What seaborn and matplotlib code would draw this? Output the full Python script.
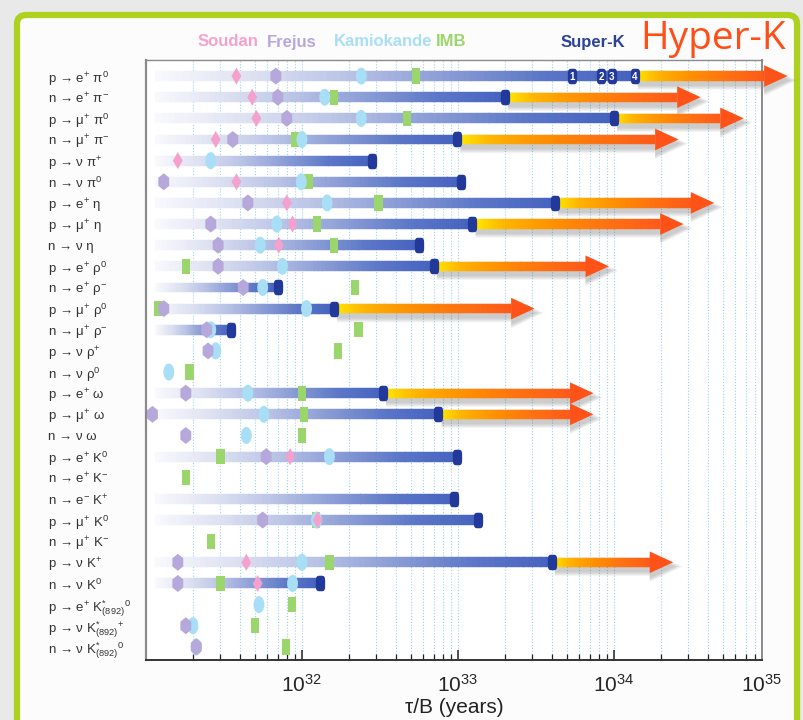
import numpy as np
import pandas as pd
import matplotlib
matplotlib.use("Agg")
import matplotlib.pyplot as plt
import seaborn as sns
from matplotlib.path import Path
from matplotlib.colors import LinearSegmentedColormap
from matplotlib.patches import FancyBboxPatch, Polygon
from matplotlib.ticker import FixedLocator, LogLocator, NullFormatter, LogFormatterSciNotation

nan = np.nan

# ---- decay channels (top to bottom) ----
channels = [
    'p → e$^{+}$ π$^{0}$', 'n → e$^{+}$ π$^{-}$', 'p → μ$^{+}$ π$^{0}$', 'n → μ$^{+}$ π$^{-}$',
    'p → ν π$^{+}$', 'n → ν π$^{0}$', 'p → e$^{+}$ η', 'p → μ$^{+}$ η', 'n → ν η',
    'p → e$^{+}$ ρ$^{0}$', 'n → e$^{+}$ ρ$^{-}$', 'p → μ$^{+}$ ρ$^{0}$', 'n → μ$^{+}$ ρ$^{-}$',
    'p → ν ρ$^{+}$', 'n → ν ρ$^{0}$', 'p → e$^{+}$ ω', 'p → μ$^{+}$ ω', 'n → ν ω',
    'p → e$^{+}$ K$^{0}$', 'n → e$^{+}$ K$^{-}$', 'n → e$^{-}$ K$^{+}$', 'p → μ$^{+}$ K$^{0}$',
    'n → μ$^{+}$ K$^{-}$', 'p → ν K$^{+}$', 'n → ν K$^{0}$',
    'p → e$^{+}$ K$^{*}_{(892)}$$^{0}$', 'p → ν K$^{*}_{(892)}$$^{+}$', 'n → ν K$^{*}_{(892)}$$^{0}$',
]

# ---- lifetime limits tau/B in years ----
soudan = [3.8e31, 4.8e31, 5.1e31, 2.8e31, 1.6e31, 3.8e31, 8.0e31, 8.7e31, 7.1e31,
          nan, nan, nan, nan, nan, nan, nan, nan, nan,
          8.4e31, nan, nan, 1.26e32, nan, 4.4e31, 5.2e31, nan, nan, nan]
frejus = [6.8e31, 7.0e31, 8.0e31, 3.6e31, nan, 1.3e31, 4.5e31, 2.6e31, 2.9e31,
          2.9e31, 4.2e31, 1.3e31, 2.45e31, 2.5e31, nan, 1.8e31, 1.1e31, 1.8e31,
          5.9e31, nan, nan, 5.6e31, nan, 1.6e31, 1.6e31, nan, 1.8e31, 2.1e31]
kamiokande = [2.4e32, 1.4e32, 2.4e32, 1.0e32, 2.6e31, 9.9e31, 1.45e32, 6.9e31, 5.4e31,
              7.5e31, 5.6e31, 1.07e32, 2.6e31, 2.8e31, 1.4e31, 4.5e31, 5.7e31, 4.4e31,
              1.5e32, nan, nan, 1.24e32, nan, 1.0e32, 8.7e31, 5.3e31, 2.0e31, 2.1e31]
imb = [5.4e32, 1.6e32, 4.7e32, 9.0e31, nan, 1.1e32, 3.1e32, 1.25e32, 1.6e32,
       1.8e31, 2.2e32, 1.2e31, 2.3e32, 1.7e32, 1.9e31, 1.0e32, 1.03e32, 1.0e32,
       3.0e31, 1.8e31, nan, 1.23e32, 2.6e31, 1.5e32, 3.0e31, 8.6e31, 5.0e31, 7.9e31]
superk = [1.36e34, 2.0e33, 1.0e34, 9.9e32, 2.8e32, 1.04e33, 4.2e33, 1.24e33, 5.6e32,
          7.0e32, 7.0e31, 1.6e32, 3.5e31, nan, nan, 3.3e32, 7.5e32, nan,
          9.9e32, nan, 9.5e32, 1.35e33, nan, 4.0e33, 1.3e32, nan, nan, nan]
hyperk = [1.3e35, 3.6e34, 6.8e34, 2.6e34, nan, nan, 4.4e34, 2.8e34, nan,
          9.3e33, nan, 3.1e33, nan, nan, nan, 7.4e33, 7.4e33, nan,
          nan, nan, nan, nan, nan, 2.4e34, nan, nan, nan, nan]
# Super-K running phases for p -> e+ pi0
sk_phase_values = [5.4e33, 8.3e33, 9.7e33, 1.36e34]
sk_phase_labels = ['1', '2', '3', '4']

experiments = ['IMB', 'Kamiokande', 'Frejus', 'Soudan']
colors = {'Soudan': '#f4a2cd', 'Frejus': '#b7a8dc', 'Kamiokande': '#a9dff6',
          'IMB': '#9bd66c', 'Super-K': '#22399a', 'Hyper-K': '#ff4f17'}

# ---- marker shapes ----
t = np.linspace(0, 2 * np.pi, 64)
ellipse = Path(np.column_stack([0.64 * np.cos(t), np.sin(t)]), closed=True)
diamond = Path([(0, 1), (0.58, 0), (0, -1), (-0.58, 0), (0, 1)], closed=True)
hexagon = Path([(0, 1), (0.64, 0.48), (0.64, -0.48), (0, -1), (-0.64, -0.48), (-0.64, 0.48), (0, 1)],
               closed=True)
rect = Path([(-0.54, -1), (0.54, -1), (0.54, 1), (-0.54, 1), (-0.54, -1)], closed=True)
ce, se = np.cos(t), np.sin(t)
cap = Path(np.column_stack([0.6 * np.sign(ce) * np.abs(ce) ** 0.5,
                            np.sign(se) * np.abs(se) ** 0.5]), closed=True)

markers = {'Soudan': diamond, 'Frejus': hexagon, 'Kamiokande': ellipse, 'IMB': rect}
sizes = {'Soudan': 150, 'Frejus': 150, 'Kamiokande': 150, 'IMB': 122}

sns.set_theme(style="white")
plt.rcParams['font.family'] = ['Liberation Sans', 'DejaVu Sans']
plt.rcParams['mathtext.fontset'] = 'custom'
plt.rcParams['mathtext.rm'] = 'Liberation Sans'
plt.rcParams['mathtext.it'] = 'Liberation Sans:italic'
plt.rcParams['mathtext.bf'] = 'Liberation Sans:bold'

W, H = 804, 720
fig = plt.figure(figsize=(W / 100, H / 100), dpi=100, facecolor='#e9e9e9')

# slide panel with green frame (behind the axes)
panel = FancyBboxPatch((17 / W, -0.05), (797 - 17) / W, 1.05 - 15 / H,
                       boxstyle='round,pad=0,rounding_size=0.012', transform=fig.transFigure,
                       facecolor='#fcfcfc', edgecolor='#aed11f', linewidth=4.5, zorder=-5)
fig.patches.append(panel)

ax = fig.add_axes([146 / W, 1 - 660 / H, (762 - 146) / W, 600 / H])
ax.set_zorder(1)
ax.set_facecolor('white')
ax.set_xscale('log')
x_max = 10 ** 34.95
ax.set_xlim(1e31, x_max)
n_rows = len(channels)
rows = np.arange(n_rows)
ax.set_ylim(n_rows - 1 + 0.62, -0.76)

# ---- Super-K bars with gradient ----
bar_cmap = LinearSegmentedColormap.from_list(
    'sk', ['#f8f9fd', '#dde1f1', '#b9c3e6', '#8c9dd6', '#5d78c8', '#4562bf'])
bar_start = 1.15e31
nseg = 70
for yi, end in zip(rows, superk):
    if np.isnan(end):
        continue
    edges = np.logspace(np.log10(bar_start), np.log10(end), nseg + 1)
    frac = (np.arange(nseg) + 0.5) / nseg
    cols = bar_cmap(frac)
    ax.barh(np.full(nseg, yi), np.diff(edges) * 1.02, left=edges[:-1], height=0.47,
            color=cols, edgecolor=cols, linewidth=0.3, zorder=2)

# ---- Hyper-K sensitivity arrows ----
arrow_cmap = LinearSegmentedColormap.from_list(
    'hk', ['#fff200', '#ffb400', '#ff9200', '#ff7410', '#ff5a1a'])
head_len = 0.15   # decades
shaft_h = 0.22    # half height (rows)
head_h = 0.51
for yi, start, tip in zip(rows, superk, hyperk):
    if np.isnan(tip):
        continue
    l0, l1 = np.log10(start), np.log10(tip)
    lb = l1 - head_len
    # soft drop shadow
    for k in range(1, 6):
        p = 0.045 * k
        dx = 0.012 * k
        dy = 0.2
        pts = [(10 ** (l0 + 0.02), yi - shaft_h - p + dy), (10 ** lb, yi - shaft_h - p + dy),
               (10 ** lb, yi - head_h - p + dy), (10 ** (l1 + dx), yi + dy),
               (10 ** lb, yi + head_h + p + dy), (10 ** lb, yi + shaft_h + p + dy),
               (10 ** (l0 + 0.02), yi + shaft_h + p + dy)]
        ax.add_patch(Polygon(pts, closed=True, facecolor='#3a3a3a', edgecolor='none',
                             alpha=0.055, zorder=2.5, clip_on=False))
    edges = np.logspace(l0, lb, nseg + 1)
    frac = (np.arange(nseg) + 0.5) / nseg
    cols = arrow_cmap(frac ** 0.8)
    ax.barh(np.full(nseg, yi), np.diff(edges) * 1.02, left=edges[:-1], height=2 * shaft_h,
            color=cols, edgecolor=cols, linewidth=0.3, zorder=3, clip_on=False)
    ax.fill([10 ** lb, 10 ** l1, 10 ** lb], [yi - head_h, yi, yi + head_h],
            color='#ff5219', linewidth=0, zorder=3, clip_on=False)

# ---- earlier experiments ----
records = []
for name, vals in zip(experiments, [imb, kamiokande, frejus, soudan]):
    for yi, v in zip(rows, vals):
        if not np.isnan(v):
            records.append((name, v, yi))
df = pd.DataFrame(records, columns=['experiment', 'lifetime', 'row'])
sns.scatterplot(data=df, x='lifetime', y='row', hue='experiment', style='experiment',
                size='experiment', palette=colors, markers=markers, sizes=sizes,
                linewidth=0, legend=False, ax=ax, zorder=4)

# ---- Super-K limits (end caps) ----
sk_rows = [yi for yi, v in zip(rows, superk) if not np.isnan(v) and yi != 0]
sk_vals = [v for yi, v in zip(rows, superk) if not np.isnan(v) and yi != 0]
ax.scatter(sk_vals, sk_rows, marker=cap, s=125, color=colors['Super-K'], linewidth=0, zorder=5)
ax.scatter(sk_phase_values, [0] * len(sk_phase_values), marker=cap, s=125,
           color=colors['Super-K'], linewidth=0, zorder=5)
for v, lab in zip(sk_phase_values, sk_phase_labels):
    ax.text(v, 0.04, lab, color='white', fontsize=7, fontweight='bold',
            ha='center', va='center', zorder=6)

# ---- axes styling ----
ax.set_yticks(rows)
ax.set_yticklabels(channels, fontsize=9.5, color='#333333')
for lab in ax.get_yticklabels():
    lab.set_horizontalalignment('left')
ax.tick_params(axis='y', length=0, pad=70.6)

ax.xaxis.set_major_locator(FixedLocator([1e32, 1e33, 1e34]))
ax.xaxis.set_major_formatter(LogFormatterSciNotation())
ax.xaxis.set_minor_locator(LogLocator(base=10, subs=np.arange(2, 10), numticks=20))
ax.xaxis.set_minor_formatter(NullFormatter())
ax.tick_params(axis='x', which='major', direction='in', length=7, width=1.1,
               color='#222222', labelsize=15, pad=10, bottom=True, top=False)
ax.tick_params(axis='x', which='minor', direction='in', length=4.5, width=0.9,
               color='#222222', bottom=True, top=False)
# the last decade label sits at the right edge of the axis
ax.annotate(r'$\mathdefault{10^{35}}$', xy=(1, 0), xycoords='axes fraction',
            xytext=(0, -10), textcoords='offset points', ha='center', va='top',
            fontsize=15, color='#222222')
ax.grid(True, which='both', axis='x', color='#99d3f1', linestyle=(0, (1, 1.6)), linewidth=0.8)
ax.grid(False, axis='y')
ax.set_axisbelow(True)
ax.set_xlabel('τ/B (years)', fontsize=15, labelpad=1.5, color='#222222')
ax.set_ylabel('')
for side, c, w in [('left', '#8a8a8a', 1.6), ('bottom', '#333333', 1.4),
                   ('top', '#8a8a8a', 1.0), ('right', '#8a8a8a', 1.4)]:
    ax.spines[side].set_color(c)
    ax.spines[side].set_linewidth(w)
    ax.spines[side].set_visible(True)

# ---- experiment names ----
name_kw = dict(fontsize=12, fontweight='bold', ha='center', va='center')
fig.text(228 / W, 1 - 42 / H, 'Soudan', color=colors['Soudan'], **name_kw)
fig.text(292 / W, 1 - 42 / H, 'Frejus', color=colors['Frejus'], **name_kw)
fig.text(383 / W, 1 - 42 / H, 'Kamiokande', color=colors['Kamiokande'], **name_kw)
fig.text(451 / W, 1 - 42 / H, 'IMB', color=colors['IMB'], **name_kw)
fig.text(593 / W, 1 - 42 / H, 'Super-K', color='#2b4398', **name_kw)
fig.text(713 / W, 1 - 39 / H, 'Hyper-K', color=colors['Hyper-K'], fontsize=28,
         family=['Open Sans', 'DejaVu Sans'], ha='center', va='center')

fig.savefig('out.png', dpi=100, facecolor=fig.get_facecolor())
